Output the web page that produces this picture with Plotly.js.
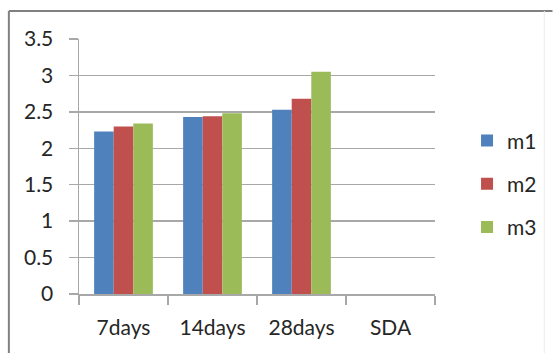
<!DOCTYPE html>
<html>
<head>
<meta charset="utf-8">
<script src="https://cdn.plot.ly/plotly-3.0.1.min.js"></script>
<style>html,body{margin:0;padding:0;background:#fff;}#chart{width:554px;height:353px;}</style>
</head>
<body>
<div id="chart"></div>
<script>
const categories = ['7days', '14days', '28days', 'SDA'];
const m1 = [2.23, 2.43, 2.53, null];
const m2 = [2.30, 2.44, 2.68, null];
const m3 = [2.34, 2.48, 3.05, null];
const yTicks = [0, 0.5, 1, 1.5, 2, 2.5, 3, 3.5];
const yTickText = ['0', '0.5', '1', '1.5', '2', '2.5', '3', '3.5'];

const FONT = 'Lato, Calibri, "Open Sans", sans-serif';
const GRID = '#a8a8a8';
const TXT = '#262626';

function bar(name, y, color, grp) {
  return {type: 'bar', name: name, x: categories, y: y, legendgroup: grp,
    marker: {color: color, line: {width: 0}}, hoverinfo: 'skip'};
}

const data = [
  bar('m1', m1, '#4F81BD', 'g1'),
  bar('m2', m2, '#C0504D', 'g2'),
  bar('m3', m3, '#9BBB59', 'g3')
];

const layout = {
  width: 554, height: 353,
  margin: {l: 79, r: 114, t: 39, b: 59, pad: 0},
  paper_bgcolor: '#fff', plot_bgcolor: '#fff',
  font: {family: FONT, size: 21, color: TXT},
  barmode: 'group', bargap: 0.34, bargroupgap: 0,
  showlegend: true,
  legend: {x: 1.09, y: 0.432, xanchor: 'left', yanchor: 'middle',
    traceorder: 'grouped', tracegroupgap: 13, font: {family: FONT, size: 21, color: TXT},
    bgcolor: 'rgba(0,0,0,0)', itemclick: false},
  xaxis: {type: 'category', range: [-0.5, 3.5], showgrid: false, zeroline: false,
    showline: true, linecolor: GRID, linewidth: 1.5,
    ticks: 'outside', tickson: 'boundaries', ticklen: 9, tickcolor: GRID, tickwidth: 1.5,
    ticklabelstandoff: 14, tickfont: {family: FONT, size: 21, color: TXT}},
  yaxis: {range: [0, 3.5], tickvals: yTicks, ticktext: yTickText,
    showgrid: true, gridcolor: GRID, gridwidth: 1.5, zeroline: false,
    showline: true, linecolor: GRID, linewidth: 1.5,
    ticks: 'outside', ticklen: 9, tickcolor: GRID, tickwidth: 1.5,
    ticklabelstandoff: 11, tickfont: {family: FONT, size: 21, color: TXT}},
  shapes: [
    {type: 'line', xref: 'paper', yref: 'paper', x0: -0.197, x1: 1.33, y0: 1.11, y1: 1.11,
      line: {color: '#808080', width: 2}},
    {type: 'line', xref: 'paper', yref: 'paper', x0: -0.197, x1: -0.197, y0: 1.11, y1: -0.24,
      line: {color: '#808080', width: 2}},
    {type: 'line', xref: 'paper', yref: 'paper', x0: 1.307, x1: 1.307, y0: 1.11, y1: -0.24,
      line: {color: '#ececec', width: 1}}
  ]
};

Plotly.newPlot('chart', data, layout, {staticPlot: true, displayModeBar: false});
</script>
</body>
</html>
